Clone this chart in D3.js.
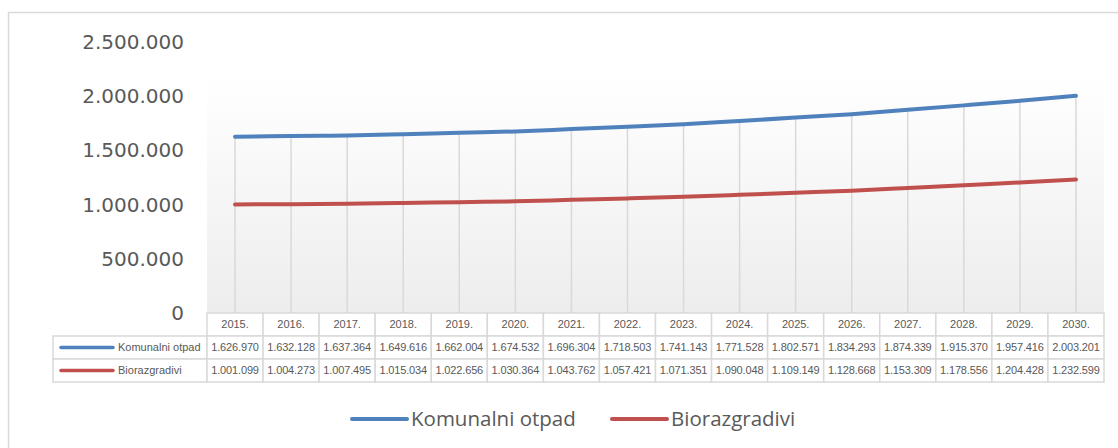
<!DOCTYPE html>
<html>
<head>
<meta charset="utf-8">
<script src="https://cdn.jsdelivr.net/npm/d3@7"></script>
<style>
  body { margin: 0; background: #fff; }
  svg { display: block; }
</style>
</head>
<body>
<div class="chart"></div>
<script>
const years = ["2015.", "2016.", "2017.", "2018.", "2019.", "2020.", "2021.", "2022.",
  "2023.", "2024.", "2025.", "2026.", "2027.", "2028.", "2029.", "2030."];
const komunalni = [1626970, 1632128, 1637364, 1649616, 1662004, 1674532, 1696304, 1718503,
  1741143, 1771528, 1802571, 1834293, 1874339, 1915370, 1957416, 2003201];
const biorazgradivi = [1001099, 1004273, 1007495, 1015034, 1022656, 1030364, 1043762, 1057421,
  1071351, 1090048, 1109149, 1128668, 1153309, 1178556, 1204428, 1232599];
const yTicks = [0, 500000, 1000000, 1500000, 2000000, 2500000];
const seriesNames = ["Komunalni otpad", "Biorazgradivi"];
const colors = ["#4f81bd", "#c0504d"];

const w = 1118, h = 448;
const plotLeft = 207, plotRight = 1104;
const plotTop = 42, plotBottom = 313;
const grey = "#595959";
const border = "#d9d9d9";

const loc = d3.formatLocale({decimal: ",", thousands: ".", grouping: [3], currency: ["", ""]});
const fmt = loc.format(",d");

const svg = d3.select(".chart").append("svg")
  .attr("width", w)
  .attr("height", h);

// outer frame
svg.append("rect")
  .attr("x", 8.5).attr("y", 12.5)
  .attr("width", 1200).attr("height", 500)
  .attr("fill", "#fff")
  .attr("stroke", border)
  .attr("stroke-width", 1.5);

const defs = svg.append("defs");
const grad = defs.append("linearGradient")
  .attr("id", "plotbg")
  .attr("x1", 0).attr("y1", 0).attr("x2", 0).attr("y2", 1);
grad.append("stop").attr("offset", "0%").attr("stop-color", "#ffffff");
grad.append("stop").attr("offset", "100%").attr("stop-color", "#ededed");

const xScale = d3.scaleBand()
  .domain(years)
  .range([plotLeft, plotRight])
  .padding(0);

const yScale = d3.scaleLinear()
  .domain([0, 2500000])
  .range([plotBottom, plotTop]);

const cx = d => xScale(d) + xScale.bandwidth() / 2;

// plot background
svg.append("rect")
  .attr("x", plotLeft).attr("y", 77)
  .attr("width", plotRight - plotLeft).attr("height", plotBottom - 77)
  .attr("fill", "url(#plotbg)");

// y axis
const yAxis = d3.axisLeft(yScale)
  .tickValues(yTicks)
  .tickFormat(d => fmt(d))
  .tickSize(0)
  .tickPadding(0);

const gy = svg.append("g")
  .attr("transform", "translate(184,0)")
  .call(yAxis);
gy.select(".domain").remove();
gy.selectAll("text")
  .attr("fill", grey)
  .style("font-family", "'DejaVu Sans', Verdana, sans-serif")
  .style("font-size", "20px");

// drop lines from the highest series down to the axis
svg.append("g")
  .selectAll("line")
  .data(years)
  .enter()
  .append("line")
  .attr("x1", d => cx(d))
  .attr("x2", d => cx(d))
  .attr("y1", (d, i) => yScale(komunalni[i]))
  .attr("y2", plotBottom)
  .attr("stroke", border)
  .attr("stroke-width", 1.5);

// series lines
const line = d3.line()
  .x((d, i) => cx(years[i]))
  .y(d => yScale(d))
  .curve(d3.curveCatmullRom.alpha(0.5));

[komunalni, biorazgradivi].forEach((s, k) => {
  svg.append("path")
    .datum(s)
    .attr("d", line)
    .attr("fill", "none")
    .attr("stroke", colors[k])
    .attr("stroke-width", 4)
    .attr("stroke-linecap", "round");
});

// data table
const rowScale = d3.scaleBand()
  .domain(["year", "s0", "s1"])
  .range([313, 382]);
const tableFont = "'Liberation Sans', Arial, sans-serif";

const table = svg.append("g");

// header row cells
table.selectAll("rect.hdr")
  .data(years)
  .enter()
  .append("rect")
  .attr("class", "hdr")
  .attr("x", d => xScale(d))
  .attr("y", rowScale("year"))
  .attr("width", xScale.bandwidth())
  .attr("height", rowScale.bandwidth())
  .attr("fill", "#fff")
  .attr("stroke", border)
  .attr("stroke-width", 1.5);

table.selectAll("text.hdr")
  .data(years)
  .enter()
  .append("text")
  .attr("class", "hdr")
  .attr("x", d => cx(d))
  .attr("y", rowScale("year") + rowScale.bandwidth() / 2)
  .attr("dy", "0.35em")
  .attr("text-anchor", "middle")
  .attr("fill", grey)
  .style("font-family", tableFont)
  .style("font-size", "11px")
  .text(d => d);

[komunalni, biorazgradivi].forEach((s, k) => {
  const ry = rowScale("s" + k);
  const rh = rowScale.bandwidth();
  // legend cell
  table.append("rect")
    .attr("x", 53).attr("y", ry)
    .attr("width", plotLeft - 53).attr("height", rh)
    .attr("fill", "#fff")
    .attr("stroke", border)
    .attr("stroke-width", 1.5);
  table.append("line")
    .attr("x1", 61).attr("x2", 113)
    .attr("y1", ry + rh / 2).attr("y2", ry + rh / 2)
    .attr("stroke", colors[k])
    .attr("stroke-width", 3.5)
    .attr("stroke-linecap", "round");
  table.append("text")
    .attr("x", 118)
    .attr("y", ry + rh / 2)
    .attr("dy", "0.35em")
    .attr("fill", grey)
    .style("font-family", tableFont)
    .style("font-size", "11px")
    .text(seriesNames[k]);

  table.selectAll("rect.r" + k)
    .data(s)
    .enter()
    .append("rect")
    .attr("class", "r" + k)
    .attr("x", (d, i) => xScale(years[i]))
    .attr("y", ry)
    .attr("width", xScale.bandwidth())
    .attr("height", rh)
    .attr("fill", "#fff")
    .attr("stroke", border)
    .attr("stroke-width", 1.5);

  table.selectAll("text.r" + k)
    .data(s)
    .enter()
    .append("text")
    .attr("class", "r" + k)
    .attr("x", (d, i) => cx(years[i]))
    .attr("y", ry + rh / 2)
    .attr("dy", "0.35em")
    .attr("text-anchor", "middle")
    .attr("fill", grey)
    .style("font-family", tableFont)
    .style("font-size", "11px")
    .style("letter-spacing", "-0.15px")
    .text(d => fmt(d));
});

// bottom legend
const legendX = [352, 612];
const legend = svg.append("g");
seriesNames.forEach((name, k) => {
  legend.append("line")
    .attr("x1", legendX[k]).attr("x2", legendX[k] + 55)
    .attr("y1", 419).attr("y2", 419)
    .attr("stroke", colors[k])
    .attr("stroke-width", 4)
    .attr("stroke-linecap", "round");
  legend.append("text")
    .attr("x", legendX[k] + 59)
    .attr("y", 419)
    .attr("dy", "0.35em")
    .attr("fill", grey)
    .style("font-family", "'Open Sans', 'Noto Sans', sans-serif")
    .style("font-size", "20.5px")
    .text(name);
});
</script>
</body>
</html>
